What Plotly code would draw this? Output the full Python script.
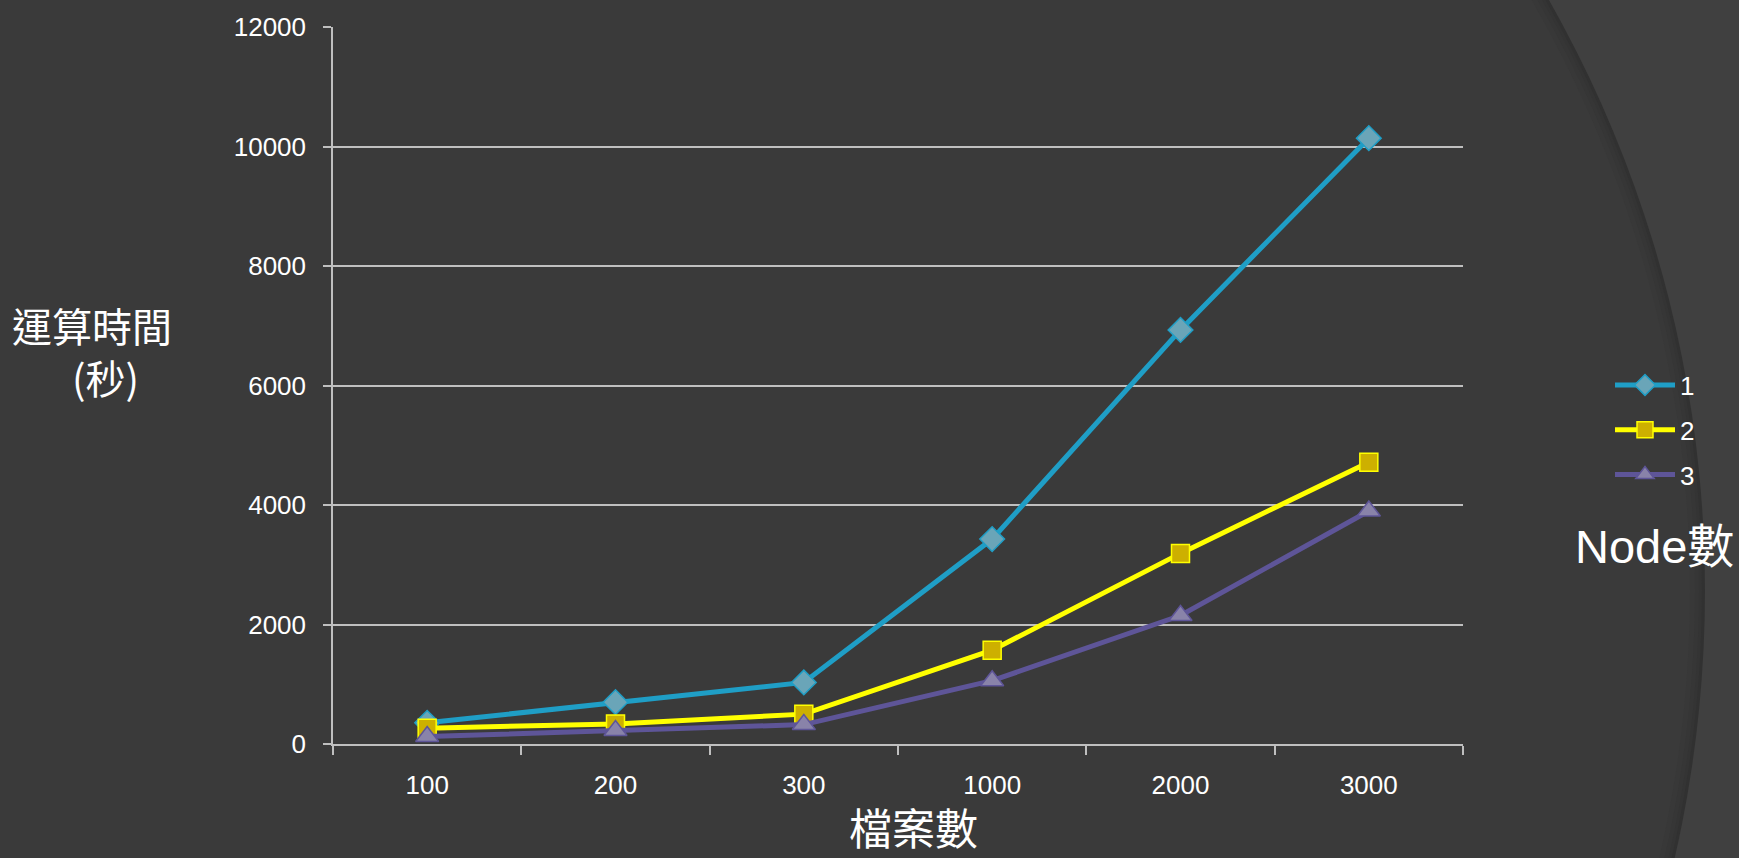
import plotly.graph_objects as go

# Data: computation time (seconds) by number of files, per node count
files = ["100", "200", "300", "1000", "2000", "3000"]
node_labels = ["1", "2", "3"]
time_node1 = [355, 700, 1030, 3430, 6930, 10140]
time_node2 = [265, 335, 500, 1570, 3190, 4717]
time_node3 = [125, 227, 325, 1060, 2150, 3900]
y_ticks = [0, 2000, 4000, 6000, 8000, 10000, 12000]

W, H = 1739, 858
M_L, M_R, M_T, M_B = 333, 276, 24, 114
PW, PH = W - M_L - M_R, H - M_T - M_B

def px_x(px):
    return (px - M_L) / PW

def px_y(py):
    return (H - M_B - py) / PH

FONT = "Liberation Sans, Arial, Noto Sans CJK TC, sans-serif"
CJK = "Noto Sans CJK TC, Liberation Sans, sans-serif"

styles = [
    dict(line="#1f9ec6", fill="#6aa5b8", symbol="diamond", size=19),
    dict(line="#ffff00", fill="#cdb000", symbol="square", size=18),
    dict(line="#5e5598", fill="#8983a9", symbol="triangle-up", size=20),
]
series = [time_node1, time_node2, time_node3]

fig = go.Figure()
for name, vals, st in zip(node_labels, series, styles):
    fig.add_trace(go.Scatter(
        x=files, y=vals, name=name, mode="lines+markers",
        legendgroup=name,
        line=dict(color=st["line"], width=5),
        marker=dict(symbol=st["symbol"], size=st["size"], color=st["fill"],
                    line=dict(color=st["line"], width=1.5)),
    ))

# Background decoration: large arc on the right side of the slide
shapes = []
cx, cy, R = 500, 590, 1205
for dr, col in [(0, "#313131"), (3, "#343434"), (6, "#363636"), (10, "#383838"), (15, "#3a3a3a")]:
    r = R - dr
    shapes.append(dict(
        type="circle", xref="paper", yref="paper", layer="below",
        x0=px_x(cx - r), x1=px_x(cx + r), y0=px_y(cy + r), y1=px_y(cy - r),
        fillcolor=col, line=dict(width=0),
    ))

nbsp = "\u00a0"
annotations = [
    dict(text="運算時間<br>" + nbsp * 3 + "(秒)", xref="paper", yref="paper",
         x=px_x(92), y=px_y(349), showarrow=False,
         font=dict(family=CJK, size=40, color="#ffffff"),
         align="center", xanchor="center", yanchor="middle"),
    dict(text="檔案數", xref="paper", yref="paper",
         x=px_x(913), y=px_y(826), showarrow=False,
         font=dict(family=CJK, size=43, color="#ffffff"),
         xanchor="center", yanchor="middle"),
    dict(text="Node數", xref="paper", yref="paper",
         x=px_x(1573), y=px_y(546), showarrow=False,
         font=dict(family=FONT, size=47, color="#ffffff"),
         xanchor="left", yanchor="middle"),
]

fig.update_layout(
    width=W, height=H,
    margin=dict(l=M_L, r=M_R, t=M_T, b=M_B, pad=0),
    paper_bgcolor="#404040",
    plot_bgcolor="rgba(0,0,0,0)",
    font=dict(family=FONT, size=26, color="#ffffff"),
    shapes=shapes,
    annotations=annotations,
    showlegend=True,
    legend=dict(
        x=px_x(1610), y=px_y(360), xanchor="left", yanchor="top",
        bgcolor="rgba(0,0,0,0)", font=dict(family=FONT, size=26, color="#ffffff"),
        itemwidth=60, tracegroupgap=8, traceorder="grouped",
    ),
    xaxis=dict(
        type="category", range=[-0.5, 5.5],
        showline=True, linecolor="#bfbfbf", linewidth=2,
        ticks="outside", ticklen=9, tickcolor="#bfbfbf", tickwidth=1.5,
        tickson="boundaries", showgrid=False, zeroline=False,
        ticklabelstandoff=17,
        tickfont=dict(family=FONT, size=26, color="#ffffff"),
    ),
    yaxis=dict(
        range=[0, 12000], tickvals=y_ticks, ticktext=[str(v) for v in y_ticks],
        showline=True, linecolor="#bfbfbf", linewidth=1.5,
        ticks="outside", ticklen=8, tickcolor="#bfbfbf", tickwidth=1.5,
        showgrid=True, gridcolor="#bfbfbf", gridwidth=1.5,
        zeroline=False, ticklabelstandoff=12,
        tickfont=dict(family=FONT, size=26, color="#ffffff"),
    ),
)

fig.write_html("out.html")
